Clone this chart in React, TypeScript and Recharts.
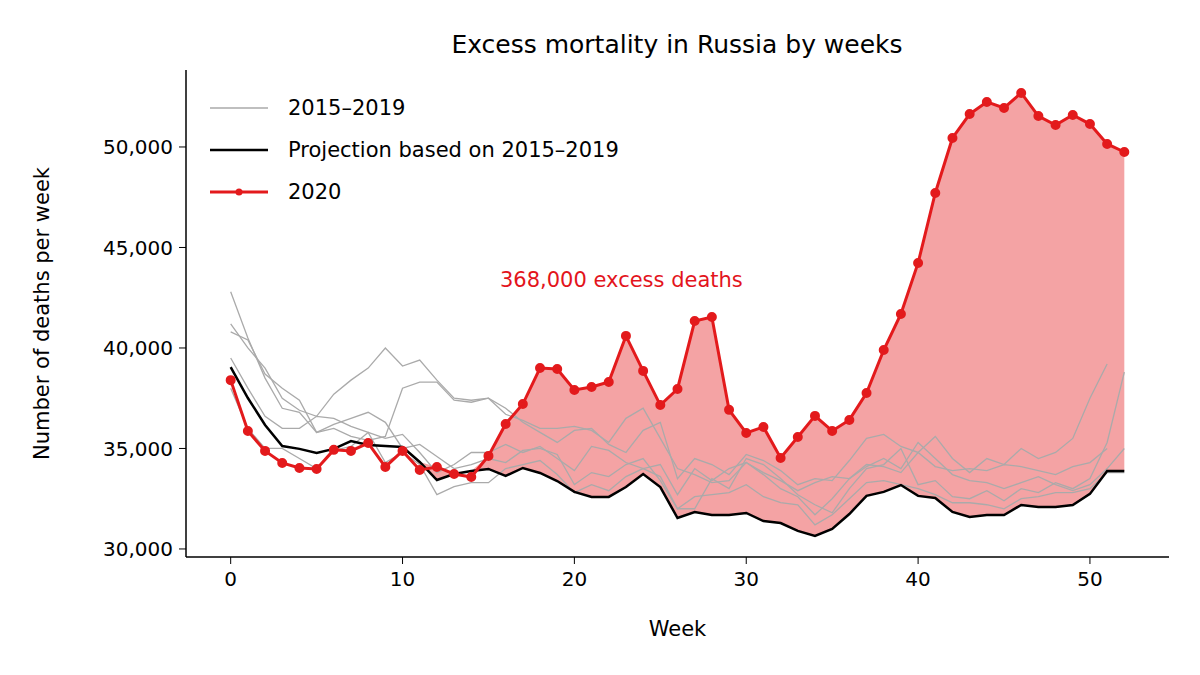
import React from 'react';
import { ComposedChart, Line, Area, XAxis, YAxis } from 'recharts';

const weeks = Array.from({ length: 53 }, (_, i) => i);
const y2020 = [38400,35870,34880,34280,34030,33980,34930,34880,35270,34080,34880,33930,34080,33730,33580,34630,36220,37210,39000,38950,37910,38060,38310,40600,38860,37160,37960,41340,41540,36920,35770,36070,34530,35570,36620,35870,36420,37760,39900,41690,44230,47710,50450,51640,52240,51940,52690,51540,51090,51590,51140,50150,49750];
const projection = [39050,37510,36170,35120,34980,34780,34980,35370,35170,35120,35070,34330,33430,33730,33880,33980,33630,34030,33780,33380,32840,32590,32590,33080,33730,33080,31540,31840,31690,31690,31790,31390,31290,30900,30650,31000,31740,32640,32840,33180,32640,32540,31840,31590,31690,31690,32190,32090,32090,32190,32740,33880,33880];
const g1 = [42800,40500,38500,37000,36800,35800,36200,36500,36800,36300,35000,35200,34600,34000,34200,34500,34300,34900,35000,34700,33200,33800,33600,34200,34500,33400,32000,32000,33500,33000,34500,34200,33500,32700,32200,31800,33000,34000,34200,35000,33200,33400,32600,32500,32900,32400,33000,32800,33300,33000,33500,35300,38800];
const g2 = [41200,40000,39000,37500,36900,36600,37700,38400,39000,40000,39100,39400,38400,37500,37400,37500,37000,36300,35800,35300,35900,36000,35200,34800,35900,36300,33500,34500,34200,33700,34700,34400,33900,33200,33500,33400,34400,35500,35700,35100,34800,35600,34500,33800,34500,34200,35000,34500,34800,35500,37500,39200,null];
const g3 = [40800,40400,38700,38000,37400,35800,36000,35600,35400,35600,38000,38300,38300,37400,37300,37500,36700,36400,36000,36000,36100,35900,35300,36500,37000,35500,34000,33700,33300,33400,34300,33800,33400,32900,33300,33600,33500,34200,34100,33800,34800,34100,33900,34000,33900,34200,34100,33900,33700,34100,34300,35000,null];
const g4 = [39500,38000,36600,36000,36000,36600,36500,36100,35800,35500,35700,34800,33800,34200,34800,34800,35200,34800,35100,34500,33900,35100,34900,34300,34000,34200,32700,34000,33400,34000,34300,33700,33000,32600,31700,32500,33500,34100,34500,34000,35300,34500,33700,33400,33300,33000,33300,33600,33200,32900,33200,34000,35000];
const g5 = [38000,36000,35000,35000,34500,34000,34900,35100,35800,34300,34800,34200,32700,33100,33300,33300,34000,34200,34400,33700,32800,33200,32900,33600,34000,33600,32000,32600,32700,32800,33200,32600,32300,32200,31200,31700,32500,33300,33400,33200,33000,32700,32300,32300,32200,32000,32500,32600,32800,32800,33000,33800,33800];
const grays = [g1, g2, g3, g4, g5];
const yTicks = [30000, 35000, 40000, 45000, 50000];
const xTicks = [0, 10, 20, 30, 40, 50];

const data = weeks.map((w, i) => ({
  week: w,
  y2020: y2020[i],
  proj: projection[i],
  range: [projection[i], Math.max(projection[i], y2020[i])],
  g1: g1[i], g2: g2[i], g3: g3[i], g4: g4[i], g5: g5[i],
}));

const font = 'DejaVu Sans, sans-serif';
const tick = { fontSize: 20, fill: '#000', fontFamily: font };

export default function App() {
  return (
    <div style={{ position: 'relative', width: 1192, height: 667, fontFamily: font }}>
      <ComposedChart width={1192} height={667} data={data} margin={{ top: 62, right: 31, left: 0, bottom: 0 }}>
        <XAxis dataKey="week" type="number" domain={[-2.6, 54.6]} ticks={xTicks} tick={{ ...tick, dy: 6 }}
          tickLine={{ stroke: '#000' }} axisLine={{ stroke: '#000', strokeWidth: 1.5 }} tickSize={7} height={118}
          label={{ value: 'Week', position: 'insideTop', offset: 64, fontSize: 21, fill: '#000', fontFamily: font }} />
        <YAxis type="number" domain={[29600, 53830]} ticks={yTicks} tick={{ ...tick, dx: -4 }} width={178}
          tickFormatter={(v: number) => v.toLocaleString('en-US')}
          tickLine={{ stroke: '#000' }} axisLine={{ stroke: '#000', strokeWidth: 1.5 }} tickSize={7}
          label={{ value: 'Number of deaths per week', angle: -90, position: 'insideLeft', offset: 34, fontSize: 21, fill: '#000', fontFamily: font, style: { textAnchor: 'middle' } }} />
        {grays.map((_, k) => (
          <Line key={k} dataKey={`g${k + 1}`} stroke="#aaaaaa" strokeWidth={1.3} dot={false} isAnimationActive={false} connectNulls={false} />
        ))}
        <Line dataKey="proj" stroke="#000" strokeWidth={2.5} dot={false} isAnimationActive={false} />
        <Area dataKey="range" fill="#e31a1c" fillOpacity={0.4} stroke="none" isAnimationActive={false} />
        <Line dataKey="y2020" stroke="#e31a1c" strokeWidth={3} isAnimationActive={false}
          dot={{ r: 3.5, fill: '#e31a1c', stroke: '#e31a1c' }} />
      </ComposedChart>
      <div style={{ position: 'absolute', top: 22, left: 0, width: 1338, textAlign: 'center', fontSize: 25 }}>
        Excess mortality in Russia by weeks
      </div>
      <div style={{ position: 'absolute', top: 260, left: 492, fontSize: 21, color: '#e3141c' }}>
        368,000 excess deaths
      </div>
      <div style={{ position: 'absolute', top: 79, left: 200, fontSize: 21, lineHeight: '42px' }}>
        {[
          { label: '2015–2019', c: '#aaaaaa', w: 1.3, dot: false },
          { label: 'Projection based on 2015–2019', c: '#000', w: 2.5, dot: false },
          { label: '2020', c: '#e31a1c', w: 3, dot: true },
        ].map((e) => (
          <div key={e.label} style={{ display: 'flex', alignItems: 'center' }}>
            <svg width={80} height={20}>
              <line x1={2} x2={60} y1={10} y2={10} stroke={e.c} strokeWidth={e.w} />
              {e.dot && <circle cx={31} cy={10} r={3.5} fill={e.c} />}
            </svg>
            <span>{e.label}</span>
          </div>
        ))}
      </div>
    </div>
  );
}
